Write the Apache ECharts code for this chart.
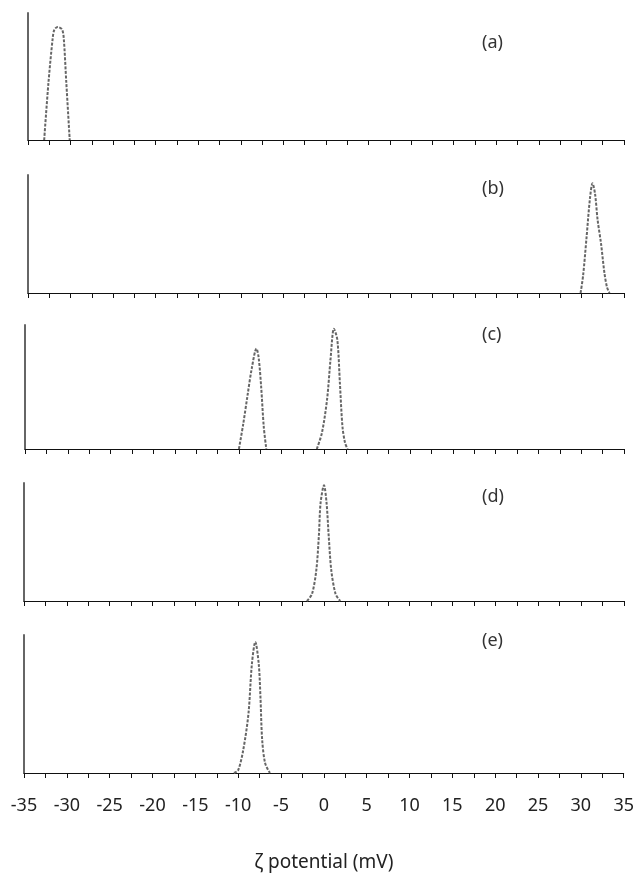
<!DOCTYPE html>
<html lang="en">

<head>
    <meta charset="UTF-8">
    <title>zeta potential</title>
    <style>
        html, body { margin: 0; padding: 0; background: #fff; }
    </style>
</head>

<body>
    <div id="main" style="width: 637px; height: 873px;"></div>

    <script src="https://cdn.jsdelivr.net/npm/echarts@6/dist/echarts.min.js"></script>
    <script>
        // peak curves: [zeta potential (mV), relative intensity]
        var peakA = [[-33.1, 0], [-32.6, 0.45], [-32.1, 0.8], [-31.9, 0.87], [-31.5, 0.89], [-31.0, 0.87], [-30.8, 0.8], [-30.5, 0.45], [-30.1, 0]];
        var peakB = [[29.9, 0], [30.2, 0.15], [30.6, 0.47], [31.0, 0.8], [31.3, 0.93], [31.6, 0.84], [31.9, 0.62], [32.3, 0.42], [32.7, 0.17], [33.0, 0.05], [33.3, 0]];
        var peakC1 = [[-10.0, 0], [-9.5, 0.2], [-9.0, 0.43], [-8.5, 0.65], [-7.95, 0.81], [-7.7, 0.74], [-7.4, 0.5], [-7.1, 0.18], [-6.8, 0]];
        var peakC2 = [[-0.9, 0], [-0.3, 0.13], [0.3, 0.4], [0.7, 0.72], [1.1, 0.97], [1.5, 0.88], [1.8, 0.53], [2.1, 0.18], [2.4, 0.05], [2.7, 0]];
        var peakD = [[-2.0, 0], [-1.4, 0.06], [-0.9, 0.26], [-0.6, 0.55], [-0.4, 0.83], [0, 0.98], [0.3, 0.83], [0.55, 0.55], [0.85, 0.26], [1.35, 0.06], [1.9, 0]];
        var peakE = [[-10.5, 0], [-10.0, 0.02], [-9.4, 0.17], [-8.8, 0.43], [-8.4, 0.79], [-8.0, 0.95], [-7.6, 0.79], [-7.4, 0.55], [-7.2, 0.24], [-6.85, 0.07], [-6.3, 0]];

        var panelNames = ['(a)', '(b)', '(c)', '(d)', '(e)'];
        var panelPeaks = [[peakA], [peakB], [peakC1, peakC2], [peakD], [peakE]];
        var xMin = -35, xMax = 35, xStep = 2.5;
        var xTitle = 'ζ potential (mV)';

        // panel boxes in px
        var boxes = [
            { top: 13, height: 127, left: 28 },
            { top: 175, height: 118, left: 28 },
            { top: 325, height: 124, left: 25 },
            { top: 483, height: 118, left: 24 },
            { top: 635, height: 138, left: 24 }
        ];
        var nameTops = [29, 175, 321, 483, 627];

        var font = '"Noto Sans", sans-serif';
        var grid = [], xAxis = [], yAxis = [], series = [], title = [];

        boxes.forEach(function (b, i) {
            var last = i === boxes.length - 1;
            grid.push({ left: b.left, right: 13, top: b.top, height: b.height });
            xAxis.push({
                type: 'value', gridIndex: i, min: xMin, max: xMax, interval: xStep,
                axisLine: { onZero: false, lineStyle: { color: '#111', width: 1 } },
                axisTick: { length: 5, lineStyle: { color: '#111' } },
                splitLine: { show: false },
                axisLabel: {
                    show: last, margin: 24, fontSize: 18, color: '#222', fontFamily: font,
                    formatter: function (v) { return v % 5 === 0 ? String(v) : ''; }
                },
                name: last ? xTitle : '', nameLocation: 'middle', nameGap: 80,
                nameTextStyle: { fontSize: 19, color: '#222', fontFamily: font }
            });
            yAxis.push({
                type: 'value', gridIndex: i, min: 0, max: 1, position: 'left',
                axisLine: { show: true, onZero: false, lineStyle: { color: '#666', width: 2 } },
                axisTick: { show: false }, axisLabel: { show: false }, splitLine: { show: false }
            });
            title.push({
                text: panelNames[i], left: 477, top: nameTops[i],
                textStyle: { fontSize: 18, fontWeight: 'normal', color: '#333', fontFamily: font }
            });
            panelPeaks[i].forEach(function (p) {
                series.push({
                    type: 'line', xAxisIndex: i, yAxisIndex: i, data: p,
                    smooth: 0.3, symbol: 'none', animation: false,
                    lineStyle: { color: '#666', width: 2, type: [3, 1.5] }
                });
            });
        });

        var myChart = echarts.init(document.getElementById('main'));
        myChart.setOption({
            backgroundColor: '#fff',
            animation: false,
            title: title,
            grid: grid,
            xAxis: xAxis,
            yAxis: yAxis,
            series: series
        });
    </script>
</body>

</html>
